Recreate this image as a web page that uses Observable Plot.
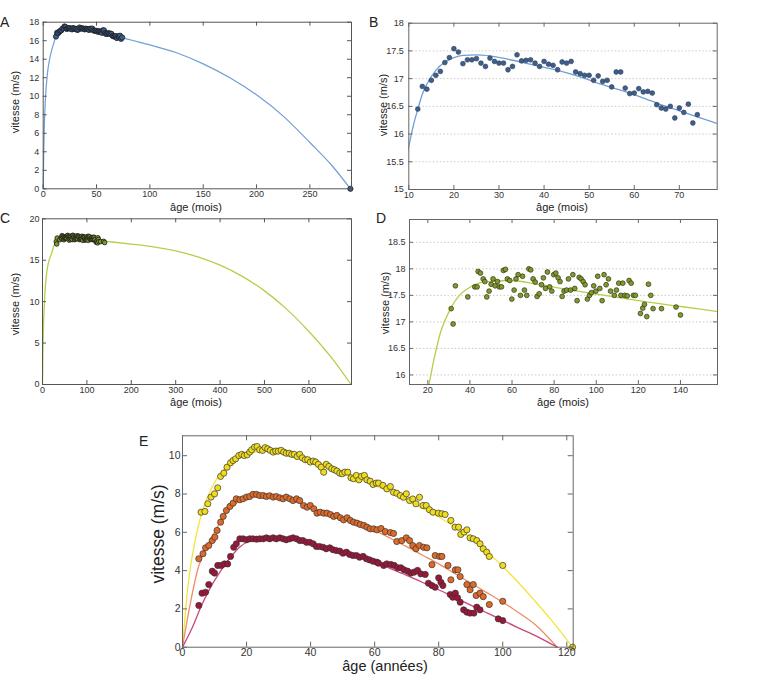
<!DOCTYPE html>
<html><head><meta charset="utf-8">
<script src="https://cdn.jsdelivr.net/npm/d3@7"></script>
<script src="https://cdn.jsdelivr.net/npm/@observablehq/plot@0.6"></script>
<style>
html,body{margin:0;padding:0;background:#fff;}
#page{position:relative;width:757px;height:685px;overflow:hidden;background:#fff;}
#page svg{position:absolute;left:0;top:0;}
</style></head><body><div id="page"></div>
<script>
// ---------- Panel A/B : blue (mois) ----------
const ageB = [12,13,14,15,16,17,18,19,20,21,22,23,24,25,26,27,28,29,30,31,32,33,34,35,36,37,38,39,40,41,42,43,44,45,46,47,48,49,50,51,52,53,54,55,56,57,58,59,60,61,62,63,64,65,66,67,68,69,70,71,72,73,74];
const vB = [16.45,16.86,16.81,16.97,17.06,17.13,17.29,17.38,17.54,17.48,17.27,17.34,17.34,17.36,17.28,17.22,17.37,17.31,17.28,17.28,17.16,17.22,17.43,17.32,17.33,17.34,17.28,17.22,17.31,17.26,17.24,17.16,17.30,17.28,17.31,17.12,17.09,17.06,17.06,16.97,17.05,16.95,16.97,16.85,17.12,17.12,16.83,16.73,16.74,16.82,16.76,16.77,16.74,16.53,16.47,16.45,16.50,16.29,16.47,16.39,16.54,16.20,16.35];
const ageEndA = [288];
const vEndA = [0];
const ageFitB = [0,0.5,1,2,4,6,8,10,11,12,13,14,16,18,20,22,25,28,32,38,43,48,53,59,65,70,78,100,125,150,175,200,225,250,270,288];
const vFitB = [0,4,6.5,9.5,12.5,14.0,15.0,15.78,16.15,16.45,16.72,16.9,17.15,17.3,17.38,17.42,17.43,17.41,17.35,17.24,17.15,17.03,16.89,16.74,16.56,16.42,16.2,15.55,14.7,13.5,12.0,10.15,7.85,5.0,2.6,0];

// ---------- Panel C/D : green (mois) ----------
const ageD = [31.1,32.0,33.1,39.0,42.3,43.4,43.9,45.0,46.3,47.1,48.0,49.1,50.1,51.0,52.0,53.1,54.0,55.0,55.9,56.9,57.8,58.9,59.9,61.0,61.9,62.9,64.0,65.0,65.9,67.0,68.0,68.9,70.0,71.0,71.9,72.9,74.0,74.9,75.9,76.8,77.9,78.9,79.8,80.8,81.9,82.8,83.8,84.7,85.9,86.8,87.8,88.9,89.8,90.9,91.9,92.8,93.8,94.7,95.8,96.8,97.7,98.8,99.8,100.7,101.7,102.8,103.7,104.7,105.8,106.8,108.6,109.6,110.7,111.7,112.6,113.6,114.7,115.6,116.6,117.7,118.6,121.0,122.1,122.9,124.0,124.8,125.9,127.0,131.0,137.9,140.0];
const vD = [17.25,16.96,17.68,17.47,17.66,17.66,17.95,17.92,17.81,17.76,17.47,17.58,17.71,17.81,17.68,17.76,17.66,17.66,17.97,17.99,17.81,17.78,17.43,17.6,17.81,17.89,17.5,17.86,17.6,17.5,18.0,17.98,17.81,17.75,17.48,17.53,17.7,17.83,17.63,17.94,17.66,17.58,17.89,17.92,17.83,17.76,17.48,17.58,17.6,17.81,17.6,17.89,17.63,17.4,17.84,17.81,17.76,17.7,17.43,17.5,17.55,17.68,17.58,17.86,17.63,17.4,17.89,17.7,17.81,17.58,17.5,17.6,17.73,17.5,17.73,17.5,17.49,17.78,17.73,17.5,17.5,17.16,17.26,17.33,17.1,17.71,17.5,17.25,17.25,17.28,17.13];
const ageFitD = [0,1,2,4,7,10,13,16,20.5,22.8,26,30.8,35,38.7,46.6,59,72,88,104,120,140,157,200,250,300,350,400,450,500,550,600,650,695];
const vFitD = [0,4,6.5,9.5,12.2,13.7,14.6,15.2,15.82,16.27,16.8,17.25,17.5,17.62,17.75,17.78,17.71,17.6,17.5,17.4,17.29,17.2,16.95,16.62,16.12,15.4,14.4,13.05,11.3,9.1,6.4,3.3,0];

// ---------- Panel E : three series (années) ----------
const ageY = [5.8,7.0,7.9,8.9,10.0,11.0,11.9,12.9,13.9,15.0,15.8,16.6,17.6,18.5,19.3,20.2,21.0,21.6,22.5,23.3,24.1,25.0,25.8,26.6,27.4,28.3,29.1,29.9,30.8,31.6,32.4,33.3,34.1,34.9,35.8,36.6,37.4,38.3,39.1,39.9,40.8,41.6,42.4,43.3,44.1,44.9,45.7,46.6,47.4,48.2,49.1,49.9,50.7,51.6,52.6,53.4,54.3,55.1,55.9,56.8,57.6,58.6,59.5,60.5,61.2,62.6,63.8,64.9,65.9,66.9,68.0,69.0,69.9,70.9,71.9,72.9,74.0,75.1,76.1,77.1,78.2,79.9,81.0,82.0,83.8,85.1,86.2,86.9,87.9,88.8,89.8,90.8,91.9,92.9,93.9,95.0,95.8,100.0,121.8];
const vY = [7.05,7.09,7.49,7.84,8.01,8.32,8.92,9.09,9.40,9.63,9.75,9.84,10.01,10.07,10.01,10.05,10.19,10.31,10.45,10.48,10.31,10.28,10.42,10.36,10.28,10.19,10.24,10.24,10.28,10.19,10.13,10.13,10.07,10.07,9.96,10.07,9.89,9.79,9.79,9.67,9.72,9.67,9.55,9.40,9.14,9.55,9.44,9.32,9.27,9.20,9.09,9.06,9.14,9.14,8.85,8.80,8.97,8.74,8.92,8.97,8.74,8.67,8.50,8.57,8.57,8.45,8.27,8.39,8.09,8.04,7.92,7.83,8.01,7.66,7.74,7.49,7.83,7.40,7.40,7.18,7.05,7.00,6.97,6.93,6.62,6.27,6.27,5.89,6.01,6.13,5.71,5.66,5.57,5.40,5.14,4.96,4.74,4.27,0];
const ageO = [5.1,6.4,7.2,8.2,9.3,10.1,10.8,11.9,12.7,13.7,14.8,15.8,16.8,17.9,18.9,20.0,21.0,22.0,23.1,24.1,25.2,26.2,27.2,28.3,29.3,30.4,31.4,32.4,33.5,34.5,35.6,36.6,37.8,38.9,39.9,41.0,42.0,43.0,44.1,45.1,46.2,47.2,48.2,49.3,50.3,51.4,52.4,53.4,54.5,55.5,56.6,57.6,58.6,59.7,60.7,62.0,63.3,64.9,65.9,66.9,68.5,69.9,70.9,71.9,72.9,74.0,75.3,76.3,77.9,78.9,80.3,81.0,82.9,83.8,85.2,86.0,86.7,88.8,89.8,90.8,91.7,92.9,93.9,95.8,100.0];
const vO = [4.62,4.88,5.19,5.31,5.57,5.75,6.10,6.53,6.83,7.14,7.35,7.52,7.75,7.70,7.75,7.84,7.87,7.98,7.98,7.92,7.92,7.87,7.91,7.84,7.87,7.80,7.75,7.84,7.75,7.66,7.75,7.66,7.40,7.31,7.40,7.23,7.00,7.05,7.00,7.00,6.93,6.83,6.88,6.76,6.65,6.76,6.62,6.53,6.48,6.41,6.36,6.27,6.18,6.18,6.13,6.20,6.04,5.99,5.94,5.52,5.57,5.71,5.57,5.31,5.14,5.31,5.22,5.19,4.31,4.79,4.74,4.74,4.27,3.52,4.04,4.04,3.69,3.27,3.00,3.27,2.70,2.82,2.64,2.23,2.40];
const ageR = [5.1,6.1,7.2,8.2,9.3,10.0,11.0,12.1,13.1,14.1,15.0,16.0,16.8,17.9,18.9,20.0,21.0,22.0,23.1,24.1,25.2,26.2,27.2,28.3,29.3,30.4,31.4,32.4,33.5,34.5,35.6,36.6,37.6,38.7,39.7,40.8,41.8,42.8,43.9,44.9,46.0,47.0,48.0,49.1,50.1,51.2,52.2,53.2,54.3,55.3,56.4,57.4,58.4,59.5,60.7,61.2,62.8,63.8,65.1,66.1,67.2,68.2,69.2,70.3,71.3,72.3,73.4,74.4,75.8,76.8,77.9,78.9,80.0,80.7,81.3,83.6,84.4,85.2,85.9,86.7,87.8,88.8,89.8,91.0,91.9,92.9,98.6,100.0];
const vR = [2.18,2.82,2.87,3.27,3.97,3.87,4.27,4.27,4.35,4.35,4.74,5.22,5.40,5.66,5.66,5.61,5.66,5.66,5.64,5.66,5.66,5.71,5.66,5.71,5.66,5.71,5.66,5.61,5.66,5.71,5.66,5.57,5.57,5.48,5.48,5.40,5.26,5.26,5.22,5.14,5.19,5.09,5.05,5.02,4.91,4.96,4.84,4.79,4.79,4.70,4.74,4.62,4.56,4.49,4.44,4.39,4.27,4.35,4.32,4.27,4.15,4.15,4.04,3.97,3.87,3.92,4.01,3.83,3.80,3.34,3.22,3.13,3.62,3.39,3.22,2.75,2.61,2.82,2.58,2.35,1.95,1.83,1.78,1.78,2.09,1.95,1.48,1.39];
const ageFitY = [0,1,2,4,6,8,10,12,15,18,22,26,30,35,40,45,50,55,60,65,70,75,80,85,90,95,100,105,110,115,121.8];
const vFitY = [0,2.0,3.6,5.6,7.0,7.9,8.6,9.1,9.6,9.95,10.17,10.25,10.22,10.05,9.8,9.5,9.15,8.8,8.45,8.08,7.68,7.25,6.8,6.28,5.7,5.0,4.22,3.35,2.42,1.45,0];
const ageFitO = [0,2,5,8,10,12,15,18,22,26,30,35,40,45,50,55,60,65,70,75,80,85,90,95,100,105,110,117];
const vFitO = [0,1.9,4.2,5.4,6.0,6.6,7.25,7.65,7.85,7.88,7.8,7.6,7.3,7.0,6.7,6.4,6.1,5.68,5.25,4.8,4.35,3.85,3.35,2.85,2.35,1.8,1.2,0];
const ageFitR = [0,3,6,9,12,15,18,21,25,30,35,40,45,50,55,60,65,70,75,80,85,90,95,100,105,110,117];
const vFitR = [0,1.0,2.2,3.2,4.0,4.7,5.25,5.55,5.65,5.66,5.6,5.43,5.22,5.0,4.75,4.45,4.1,3.75,3.38,3.0,2.6,2.2,1.8,1.4,1.0,0.62,0];

// ---------- tick values & labels ----------
const ticksAx = [0,50,100,150,200,250], ticksAy = [0,2,4,6,8,10,12,14,16,18];
const ticksBx = [10,20,30,40,50,60,70], ticksBy = [15,15.5,16,16.5,17,17.5,18];
const ticksCx = [0,100,200,300,400,500,600], ticksCy = [0,5,10,15,20];
const ticksDx = [20,40,60,80,100,120,140], ticksDy = [16,16.5,17,17.5,18,18.5];
const ticksEx = [0,20,40,60,80,100,120], ticksEy = [0,2,4,6,8,10];
const gridB = [15.5,16,16.5,17,17.5], gridD = [16,16.5,17,17.5,18,18.5];
const labY = "vitesse (m/s)", labXm = "âge (mois)", labXa = "âge (années)";
const panelLetters = ["A","B","C","D","E"];

const zip = (a, b) => a.map((x, i) => [x, b[i]]);
const W = 757, H = 685;
const FONT = "'Liberation Sans', Arial, sans-serif";
const dotStroke = "#1c1c1c";

function panel(o) {
  const innerW = o.r - o.l, innerH = o.b - o.t, tl = o.tickLen;
  const marks = [];
  if (o.grid) marks.push(Plot.ruleY(o.grid, {y: d => d, stroke: "#c4c4c4", strokeDasharray: "1.5,2", strokeWidth: 0.9}));
  marks.push(...o.marks);
  marks.push(Plot.tickX(o.xTicks, {x: d => d, insetTop: innerH - tl, stroke: o.fc}));
  marks.push(Plot.tickX(o.xTicks, {x: d => d, insetBottom: innerH - tl, stroke: o.fc}));
  marks.push(Plot.tickY(o.yTicks, {y: d => d, insetRight: innerW - tl, stroke: o.fc}));
  marks.push(Plot.tickY(o.yTicks, {y: d => d, insetLeft: innerW - tl, stroke: o.fc}));
  marks.push(Plot.frame({stroke: o.fc}));
  marks.push(Plot.axisX({ticks: o.xTicks, tickSize: 0, tickPadding: o.padX, tickFormat: d => String(d), label: null, fontSize: o.fs}));
  marks.push(Plot.axisY({ticks: o.yTicks, tickSize: 0, tickPadding: o.padY, tickFormat: d => String(d), label: null, fontSize: o.fs}));
  return Plot.plot({
    width: W, height: H,
    marginLeft: o.l, marginRight: W - o.r, marginTop: o.t, marginBottom: H - o.b,
    x: {domain: o.xDomain}, y: {domain: o.yDomain},
    style: {background: "transparent", color: "#333", fontFamily: FONT, fontSize: o.fs + "px"},
    marks
  });
}

const page = document.getElementById("page");
const blueLine = "#6f9fd6", blueFill = "#3e5f8e";
const greenLine = "#b2d04a", greenFill = "#7f9a2c";
const yelLine = "#f2e43c", yelFill = "#f0dc1a";
const oraLine = "#ef8c68", oraFill = "#dd6a28";
const redLine = "#c8467a", redFill = "#9b1638";

// A
page.appendChild(panel({l: 42.7, r: 351, t: 21.7, b: 188.3, xDomain: [0, 289], yDomain: [0, 18],
  xTicks: ticksAx, yTicks: ticksAy, tickLen: 4, fc: "#555", fs: 9, padX: 2, padY: 4,
  marks: [
    Plot.line(zip(ageFitB, vFitB), {x: d => d[0], y: d => d[1], stroke: blueLine, strokeWidth: 1.2, curve: "monotone-x"}),
    Plot.dot(zip(ageB, vB), {x: d => d[0], y: d => d[1], r: 2.6, fill: blueFill, stroke: dotStroke, strokeWidth: 0.8}),
    Plot.dot(zip(ageEndA, vEndA), {x: d => d[0], y: d => d[1], r: 2.6, fill: blueFill, stroke: dotStroke, strokeWidth: 0.8})
  ]}));
// B
page.appendChild(panel({l: 408.3, r: 716.7, t: 22.7, b: 189, xDomain: [10, 78.4], yDomain: [15, 18],
  xTicks: ticksBx, yTicks: ticksBy, grid: gridB, tickLen: 4, fc: "#666", fs: 9, padX: 2, padY: 5,
  marks: [
    Plot.line(zip(ageFitB, vFitB), {x: d => d[0], y: d => d[1], stroke: blueLine, strokeWidth: 1.3, curve: "monotone-x", clip: true}),
    Plot.dot(zip(ageB, vB), {x: d => d[0], y: d => d[1], r: 2.4, fill: blueFill, stroke: "#2a3950", strokeWidth: 0.6})
  ]}));
// C
page.appendChild(panel({l: 42, r: 351, t: 218.3, b: 384, xDomain: [0, 696], yDomain: [0, 20],
  xTicks: ticksCx, yTicks: ticksCy, tickLen: 4, fc: "#555", fs: 9, padX: 2, padY: 3,
  marks: [
    Plot.line(zip(ageFitD, vFitD), {x: d => d[0], y: d => d[1], stroke: greenLine, strokeWidth: 1.3, curve: "monotone-x"}),
    Plot.dot(zip(ageD, vD), {x: d => d[0], y: d => d[1], r: 2.3, fill: greenFill, stroke: dotStroke, strokeWidth: 0.8})
  ]}));
// D
page.appendChild(panel({l: 409, r: 717, t: 219, b: 384, xDomain: [11.3, 157.6], yDomain: [15.82, 18.93],
  xTicks: ticksDx, yTicks: ticksDy, grid: gridD, tickLen: 4, fc: "#666", fs: 9, padX: 2, padY: 4,
  marks: [
    Plot.line(zip(ageFitD, vFitD), {x: d => d[0], y: d => d[1], stroke: greenLine, strokeWidth: 1.3, curve: "monotone-x", clip: true}),
    Plot.dot(zip(ageD, vD), {x: d => d[0], y: d => d[1], r: 2.4, fill: greenFill, stroke: "#2c3312", strokeWidth: 0.7})
  ]}));
// E
page.appendChild(panel({l: 182, r: 572.7, t: 435.3, b: 646.7, xDomain: [0, 122], yDomain: [0, 11.04],
  xTicks: ticksEx, yTicks: ticksEy, tickLen: 5, fc: "#666", fs: 10.5, padX: 1, padY: 2,
  marks: [
    Plot.line(zip(ageFitY, vFitY), {x: d => d[0], y: d => d[1], stroke: yelLine, strokeWidth: 1.3, curve: "monotone-x"}),
    Plot.line(zip(ageFitO, vFitO), {x: d => d[0], y: d => d[1], stroke: oraLine, strokeWidth: 1.3, curve: "monotone-x"}),
    Plot.line(zip(ageFitR, vFitR), {x: d => d[0], y: d => d[1], stroke: redLine, strokeWidth: 1.3, curve: "monotone-x"}),
    Plot.dot(zip(ageY, vY), {x: d => d[0], y: d => d[1], r: 3.1, fill: yelFill, stroke: "#333", strokeWidth: 0.7}),
    Plot.dot(zip(ageO, vO), {x: d => d[0], y: d => d[1], r: 3.1, fill: oraFill, stroke: "#333", strokeWidth: 0.7}),
    Plot.dot(zip(ageR, vR), {x: d => d[0], y: d => d[1], r: 3.1, fill: redFill, stroke: "#333", strokeWidth: 0.7})
  ]}));

// ---------- text overlay: panel letters and axis titles ----------
const ov = d3.select(page).append("svg").attr("width", W).attr("height", H)
  .style("font-family", FONT).style("fill", "#222");
function txt(x, y, s, size, anchor, rot) {
  const t = ov.append("text").attr("x", x).attr("y", y).attr("font-size", size)
    .attr("text-anchor", anchor).text(s);
  if (rot) t.attr("transform", `rotate(-90 ${x} ${y})`);
}
const letterPos = [[0, 27], [369, 27], [0, 223], [376, 223], [139, 446]];
panelLetters.forEach((L, i) => txt(letterPos[i][0], letterPos[i][1], L, 14, "start", false));
txt(196, 210.5, labXm, 11, "middle", false);
txt(562, 210.5, labXm, 11, "middle", false);
txt(196, 406, labXm, 11, "middle", false);
txt(563, 406, labXm, 11, "middle", false);
txt(385, 671, labXa, 14.5, "middle", false);
txt(19, 102, labY, 11, "middle", true);
txt(387, 105, labY, 11, "middle", true);
txt(19, 304, labY, 11, "middle", true);
txt(389, 303, labY, 11, "middle", true);
txt(164, 534, labY, 17.5, "middle", true);
</script></body></html>
